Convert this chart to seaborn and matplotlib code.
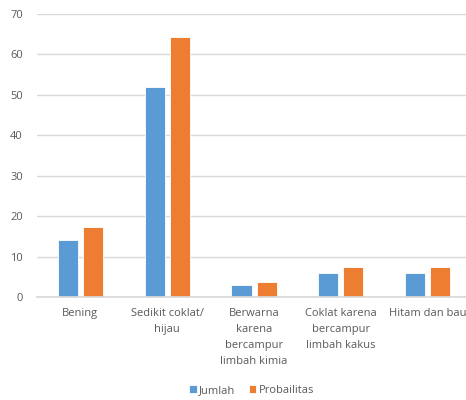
import pandas as pd
import matplotlib.pyplot as plt
import seaborn as sns

# Data
kategori = ["Bening", "Sedikit coklat/\nhijau", "Berwarna\nkarena\nbercampur\nlimbah kimia",
            "Coklat karena\nbercampur\nlimbah kakus", "Hitam dan bau"]
jumlah = [14, 52, 3, 6, 6]
probabilitas = [17.3, 64.2, 3.7, 7.4, 7.4]
seri = ["Jumlah", "Probailitas"]
warna = ["#5B9BD5", "#ED7D31"]

df = pd.DataFrame({
    "Kategori": kategori * 2,
    "Seri": [seri[0]] * len(kategori) + [seri[1]] * len(kategori),
    "Nilai": jumlah + probabilitas,
})

sns.set_theme(style="white")
plt.rcParams["font.family"] = ["Open Sans", "DejaVu Sans"]

fig = plt.figure(figsize=(4.66, 4.0), dpi=100)
ax = fig.add_axes([0.079, 0.2575, 0.921, 0.7075])

sns.barplot(data=df, x="Kategori", y="Nilai", hue="Seri", palette=warna,
            saturation=1, width=0.576, gap=0.2, edgecolor="white", linewidth=0.6, ax=ax)

ax.set_ylim(0, 70)
ax.set_xlim(-0.5, 4.44)
ax.set_yticks(range(0, 71, 10))
ax.yaxis.grid(True, color="#D9D9D9", linewidth=1)
ax.set_axisbelow(True)
for s in ["top", "right", "left"]:
    ax.spines[s].set_visible(False)
ax.spines["bottom"].set_color("#D9D9D9")
ax.set_xlabel("")
ax.set_ylabel("")
ax.tick_params(axis="both", length=0, labelsize=8, labelcolor="#595959")
ax.tick_params(axis="x", pad=8)
ax.tick_params(axis="y", pad=10)
for lbl in ax.get_xticklabels():
    lbl.set_linespacing(1.6)
    lbl.set_ha("center")

ax.legend(loc="center", bbox_to_anchor=(0.5, -0.33), ncol=2, frameon=False,
          fontsize=8, labelcolor="#595959", handlelength=0.7, handleheight=0.7,
          handletextpad=0.2, columnspacing=1.2)

fig.savefig("out.png", dpi=100)
